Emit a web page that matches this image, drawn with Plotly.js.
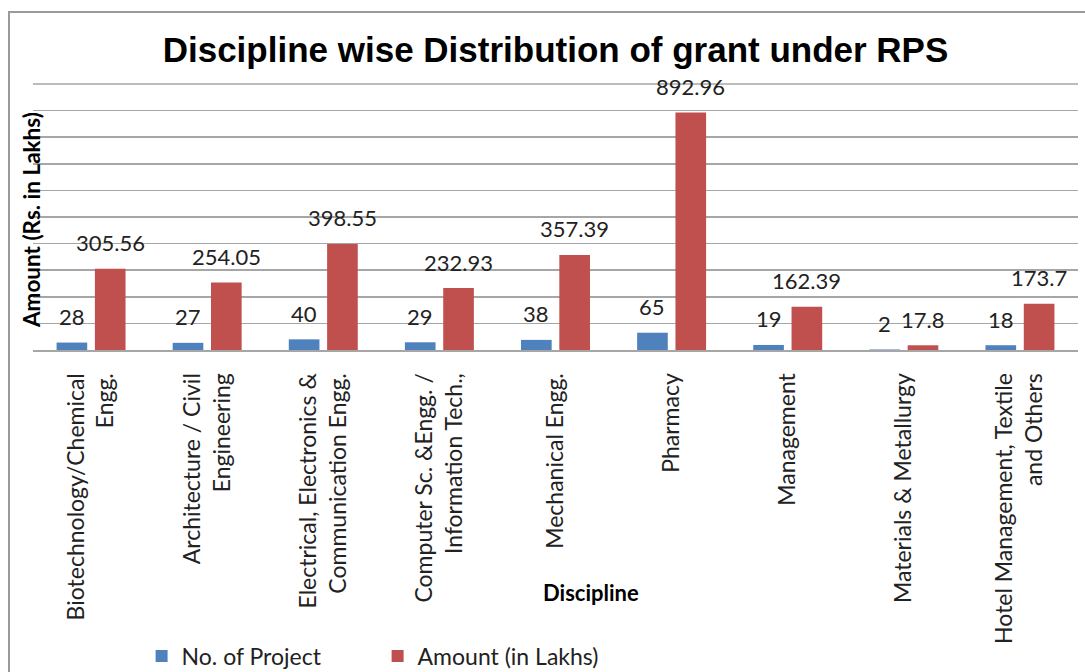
<!DOCTYPE html>
<html><head><meta charset="utf-8">
<script src="https://cdn.plot.ly/plotly-3.0.1.min.js"></script>
<style>
html,body{margin:0;padding:0;background:#fff;}
#chart{position:absolute;left:0;top:0;width:1085px;height:672px;}
#frame{position:absolute;left:8px;top:11px;width:1100px;height:700px;border-left:2px solid #9a9a9a;border-top:2px solid #9a9a9a;pointer-events:none;}
</style></head>
<body>
<div id="chart"></div>
<div id="frame"></div>
<script>
const categories = [
  "Biotechnology/Chemical<br>Engg.",
  "Architecture / Civil<br>Engineering",
  "Electrical, Electronics &<br>Communication Engg.",
  "Computer Sc. &Engg. /<br>Information Tech.,",
  "Mechanical Engg.",
  "Pharmacy",
  "Management",
  "Materials & Metallurgy",
  "Hotel Management, Textile<br>and Others"
];
const projects = [28, 27, 40, 29, 38, 65, 19, 2, 18];
const amounts = [305.56, 254.05, 398.55, 232.93, 357.39, 892.96, 162.39, 17.8, 173.7];
const projectLabels = ["28", "27", "40", "29", "38", "65", "19", "2", "18"];
const amountLabels = ["305.56", "254.05", "398.55", "232.93", "357.39", "892.96", "162.39", "17.8", "173.7"];

const W = 1085, H = 672;
const margin = {l: 33, r: 7, t: 84, b: 322, autoexpand: false};
const bargap = 0.34, bargroupgap = 0.2;
const plotW = W - margin.l - margin.r;
const plotH = H - margin.t - margin.b;
const slot = (1 - bargap) * plotW / categories.length / 2;
const labelFont = {family: "Lato, 'Open Sans', sans-serif", size: 22, color: "#222"};
const gridColor = "#a6a6a6";

const annotations = [];
categories.forEach((c, i) => {
  annotations.push({x: c, y: projects[i], xref: "x", yref: "y", text: projectLabels[i], showarrow: false,
    xshift: -slot / 2, yshift: 26, yanchor: "middle", font: labelFont});
  annotations.push({x: c, y: amounts[i], xref: "x", yref: "y", text: amountLabels[i], showarrow: false,
    xshift: slot / 2, yshift: 26, yanchor: "middle", font: labelFont});
});
annotations.push({xref: "paper", yref: "paper", x: 0, y: (H - margin.b - 220) / plotH, xshift: -2, textangle: -90,
  text: "<b>Amount (Rs. in Lakhs)</b>", showarrow: false, xanchor: "center", yanchor: "middle",
  font: {family: "Lato, sans-serif", size: 22.5, color: "#000"}});
annotations.push({xref: "paper", yref: "paper", x: (591 - margin.l) / plotW, y: -(592 - (H - margin.b)) / plotH,
  text: "<b>Discipline</b>", showarrow: false, xanchor: "center", yanchor: "middle",
  font: {family: "Lato, sans-serif", size: 22, color: "#000"}});

const data = [
  {type: "bar", name: "No. of Project", x: categories, y: projects, marker: {color: "#4F81BD"}, hoverinfo: "y"},
  {type: "bar", name: "Amount (in Lakhs)", x: categories, y: amounts, marker: {color: "#C0504D"}, hoverinfo: "y"}
];

const layout = {
  width: W, height: H,
  margin: margin,
  paper_bgcolor: "#fff", plot_bgcolor: "#fff",
  barmode: "group", bargap: bargap, bargroupgap: bargroupgap,
  title: {text: "<b>Discipline wise Distribution of grant under RPS</b>", x: 0.5, xref: "paper",
    y: 1 - 50 / H, yref: "container", yanchor: "middle",
    font: {family: "'Liberation Sans', Arial, sans-serif", size: 35, color: "#000"}},
  xaxis: {type: "category", tickangle: -90, showline: true, linecolor: gridColor, linewidth: 2,
    ticks: "", ticklabelstandoff: 12,
    tickfont: {family: "Lato, 'Open Sans', sans-serif", size: 23, color: "#222"}, automargin: false},
  yaxis: {range: [0, 1000], dtick: 100, showticklabels: false, ticks: "", showgrid: true,
    gridcolor: gridColor, gridwidth: 1.5, zeroline: false, fixedrange: true, automargin: false},
  shapes: [{type: "line", xref: "paper", yref: "paper", x0: 0, x1: 1, y0: 1, y1: 1,
    line: {color: gridColor, width: 1.5}, layer: "below"}],
  showlegend: true,
  legend: {orientation: "h", x: (141.6 - margin.l) / plotW, xanchor: "left",
    y: -(656 - (H - margin.b)) / plotH, yanchor: "middle",
    entrywidth: 191, entrywidthmode: "pixels",
    font: {family: "Lato, sans-serif", size: 23, color: "#222"}, traceorder: "normal", itemwidth: 30},
  annotations: annotations
};

Plotly.newPlot("chart", data, layout, {staticPlot: true, displayModeBar: false});
</script>
</body></html>
